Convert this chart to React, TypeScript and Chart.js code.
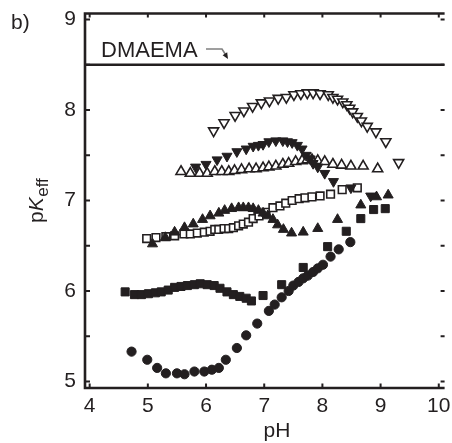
import { useEffect, useRef } from 'react';
import { Chart, registerables } from 'chart.js';

Chart.register(...registerables);

// ---------- data ----------
const X_MIN = 3.92;
const X_MAX = 10.1;
const Y_MIN = 4.928;
const Y_MAX = 9.072;

const xTickValues = [4, 5, 6, 7, 8, 9, 10];
const yTickValues = [5, 5.5, 6, 6.5, 7, 7.5, 8, 8.5, 9];

const dmaemaPKa = 8.5;
const dmaemaLabel = 'DMAEMA';

// filled circles
const circlePH = [4.72, 4.99, 5.16, 5.31, 5.5, 5.63, 5.8, 5.97, 6.1, 6.22, 6.34, 6.53, 6.69, 6.88, 7.08, 7.18, 7.3, 7.42, 7.5, 7.59, 7.67, 7.75, 7.84, 7.92, 8.01, 8.14, 8.28, 8.48];
const circlePK = [5.33, 5.24, 5.15, 5.09, 5.09, 5.08, 5.11, 5.11, 5.13, 5.15, 5.24, 5.37, 5.51, 5.64, 5.78, 5.85, 5.93, 6.0, 6.06, 6.1, 6.14, 6.17, 6.21, 6.25, 6.29, 6.38, 6.46, 6.54];

// filled squares
const filledSquarePH = [4.61, 4.77, 4.89, 5.01, 5.13, 5.23, 5.35, 5.46, 5.57, 5.68, 5.8, 5.9, 6.02, 6.14, 6.24, 6.36, 6.47, 6.58, 6.69, 6.78, 6.98, 7.3, 7.67, 8.09, 8.41, 8.66, 8.88, 9.08];
const filledSquarePK = [5.99, 5.96, 5.96, 5.97, 5.98, 5.99, 6.01, 6.04, 6.05, 6.06, 6.07, 6.08, 6.07, 6.06, 6.03, 5.99, 5.96, 5.94, 5.92, 5.89, 5.95, 6.07, 6.26, 6.49, 6.66, 6.8, 6.9, 6.91];

// filled up-triangles
const filledUpPH = [5.08, 5.3, 5.46, 5.63, 5.78, 5.94, 6.07, 6.22, 6.32, 6.44, 6.56, 6.64, 6.73, 6.81, 6.9, 6.98, 7.06, 7.15, 7.23, 7.33, 7.47, 7.67, 7.92, 8.26, 8.66, 8.93, 9.13];
const filledUpPK = [6.52, 6.59, 6.65, 6.7, 6.74, 6.79, 6.83, 6.86, 6.89, 6.91, 6.92, 6.92, 6.92, 6.91, 6.89, 6.86, 6.83, 6.79, 6.73, 6.68, 6.64, 6.65, 6.69, 6.79, 6.95, 7.04, 7.06];

// open squares
const openSquarePH = [4.98, 5.14, 5.31, 5.46, 5.62, 5.73, 5.85, 5.97, 6.07, 6.15, 6.22, 6.31, 6.39, 6.47, 6.56, 6.64, 6.73, 6.81, 6.91, 7.03, 7.15, 7.27, 7.37, 7.48, 7.6, 7.7, 7.82, 7.96, 8.14, 8.34, 8.6];
const openSquarePK = [6.58, 6.59, 6.6, 6.61, 6.63, 6.63, 6.64, 6.65, 6.66, 6.68, 6.68, 6.69, 6.69, 6.7, 6.72, 6.74, 6.76, 6.8, 6.83, 6.87, 6.92, 6.94, 6.97, 7.0, 7.02, 7.03, 7.04, 7.05, 7.07, 7.12, 7.14];

// open up-triangles
const openUpPH = [5.57, 5.73, 5.89, 6.02, 6.15, 6.27, 6.39, 6.49, 6.61, 6.74, 6.86, 6.98, 7.08, 7.2, 7.32, 7.42, 7.54, 7.65, 7.74, 7.82, 7.92, 8.04, 8.18, 8.33, 8.49, 8.7, 8.95];
const openUpPK = [7.32, 7.3, 7.3, 7.3, 7.32, 7.32, 7.32, 7.33, 7.34, 7.35, 7.35, 7.36, 7.37, 7.38, 7.4, 7.41, 7.43, 7.44, 7.45, 7.45, 7.44, 7.43, 7.4, 7.39, 7.38, 7.38, 7.35];

// filled down-triangles
const filledDownPH = [5.82, 6.0, 6.19, 6.36, 6.53, 6.69, 6.81, 6.9, 6.98, 7.08, 7.2, 7.32, 7.4, 7.48, 7.57, 7.65, 7.72, 7.79, 7.84, 7.92, 8.04, 8.19, 8.49, 8.83];
const filledDownPK = [7.37, 7.4, 7.45, 7.49, 7.54, 7.57, 7.6, 7.61, 7.62, 7.65, 7.66, 7.66, 7.65, 7.64, 7.61, 7.57, 7.5, 7.46, 7.41, 7.37, 7.3, 7.21, 7.14, 7.05];

// open down-triangles
const openDownPH = [6.13, 6.31, 6.5, 6.65, 6.8, 6.95, 7.09, 7.24, 7.38, 7.51, 7.63, 7.74, 7.84, 7.96, 8.1, 8.18, 8.26, 8.35, 8.42, 8.47, 8.52, 8.6, 8.67, 8.77, 8.92, 9.09, 9.31];
const openDownPK = [7.77, 7.86, 7.94, 7.99, 8.04, 8.08, 8.1, 8.13, 8.14, 8.17, 8.18, 8.19, 8.19, 8.18, 8.17, 8.14, 8.12, 8.09, 8.06, 8.02, 7.98, 7.93, 7.88, 7.82, 7.76, 7.65, 7.42];

// ---------- style ----------
const FONT = '"Liberation Sans", Arial, Helvetica, sans-serif';
const INK = '#231f20';

const pts = (xs: number[], ys: number[]) => xs.map((x, i) => ({ x, y: ys[i] }));

function marker(data: { x: number; y: number }[], style: string, radius: number, filled: boolean, rotation = 0, bw = 1) {
  return {
    type: 'scatter' as const,
    data,
    showLine: false,
    pointStyle: style,
    pointRadius: radius,
    pointRotation: rotation,
    pointBackgroundColor: filled ? INK : '#ffffff',
    pointBorderColor: INK,
    pointBorderWidth: bw,
    backgroundColor: filled ? INK : '#ffffff',
    borderColor: INK,
  };
}

const framePlugin = {
  id: 'frame',
  afterDatasetsDraw(chart: any) {
    const { ctx, chartArea } = chart;
    const { left, right, top, bottom } = chartArea;
    const xs = chart.scales.x;
    const ys = chart.scales.y;
    ctx.save();
    ctx.strokeStyle = INK;
    ctx.lineWidth = 2.6;
    ctx.beginPath();
    ctx.moveTo(left, top + 0.5);
    ctx.lineTo(right, top + 0.5);
    ctx.moveTo(left, top - 0.8);
    ctx.lineTo(left, bottom + 1.3);
    ctx.moveTo(left, bottom);
    ctx.lineTo(right, bottom);
    ctx.stroke();
    ctx.lineWidth = 2;
    ctx.beginPath();
    for (const v of xTickValues) {
      const px = xs.getPixelForValue(v);
      ctx.moveTo(px, bottom);
      ctx.lineTo(px, bottom - 4.5);
      ctx.moveTo(px, top);
      ctx.lineTo(px, top + 4.5);
    }
    for (const v of yTickValues) {
      const py = ys.getPixelForValue(v);
      ctx.moveTo(left, py);
      ctx.lineTo(left + 5, py);
      ctx.moveTo(right, py);
      ctx.lineTo(right - 4, py);
    }
    ctx.stroke();
    ctx.restore();
  },
};

const textPlugin = {
  id: 'texts',
  afterDraw(chart: any) {
    const { ctx } = chart;
    ctx.save();
    ctx.fillStyle = INK;
    ctx.textBaseline = 'alphabetic';
    // panel label
    ctx.textAlign = 'left';
    ctx.font = `21px ${FONT}`;
    ctx.fillText('b)', 11, 29);
    // x title
    ctx.textAlign = 'center';
    ctx.fillText('pH', 277, 437);
    // DMAEMA label
    ctx.textAlign = 'left';
    ctx.font = `22px ${FONT}`;
    ctx.fillText(dmaemaLabel, 101, 57);
    // arrow
    ctx.strokeStyle = '#808080';
    ctx.lineWidth = 1.6;
    ctx.beginPath();
    ctx.moveTo(206, 49);
    ctx.lineTo(222, 49);
    ctx.lineTo(225.5, 54.5);
    ctx.stroke();
    ctx.fillStyle = INK;
    ctx.beginPath();
    ctx.moveTo(228, 59);
    ctx.lineTo(222.6, 55.2);
    ctx.lineTo(227.2, 52.3);
    ctx.closePath();
    ctx.fill();
    // y title pK_eff
    ctx.fillStyle = INK;
    ctx.translate(43, 223);
    ctx.rotate(-Math.PI / 2);
    ctx.textAlign = 'left';
    let w = 0;
    ctx.font = `21px ${FONT}`;
    ctx.fillText('p', w, 0);
    w += ctx.measureText('p').width;
    ctx.font = `italic 21px ${FONT}`;
    ctx.fillText('K', w, 0);
    w += ctx.measureText('K').width + 0.5;
    ctx.font = `17px ${FONT}`;
    ctx.fillText('eff', w, 5);
    ctx.restore();
  },
};

export default function App() {
  const ref = useRef<HTMLCanvasElement | null>(null);

  useEffect(() => {
    if (!ref.current) return;
    const chart = new Chart(ref.current, {
      type: 'scatter',
      data: {
        datasets: [
          marker(pts(filledDownPH, filledDownPK), 'triangle', 5.8, true, 180),
          marker(pts(filledUpPH, filledUpPK), 'triangle', 5.8, true, 0),
          marker(pts(openDownPH, openDownPK), 'triangle', 5.8, false, 180, 1.6),
          marker(pts(openUpPH, openUpPK), 'triangle', 5.8, false, 0, 1.6),
          marker(pts(openSquarePH, openSquarePK), 'rect', 5.4, false, 0, 1.6),
          marker(pts(filledSquarePH, filledSquarePK), 'rect', 5.7, true, 0, 1),
          marker(pts(circlePH, circlePK), 'circle', 4.6, true, 0, 1),
          {
            type: 'line' as const,
            data: [
              { x: X_MIN, y: dmaemaPKa },
              { x: X_MAX, y: dmaemaPKa },
            ],
            borderColor: INK,
            borderWidth: 2.6,
            pointRadius: 0,
            showLine: true,
          } as any,
        ],
      },
      options: {
        animation: false,
        responsive: false,
        devicePixelRatio: 1,
        events: [],
        layout: { padding: { top: 13, left: 0, right: 0, bottom: 0 } },
        plugins: { legend: { display: false }, tooltip: { enabled: false } },
        scales: {
          x: {
            type: 'linear',
            min: X_MIN,
            max: X_MAX,
            afterBuildTicks: (s: any) => {
              s.ticks = xTickValues.map((v) => ({ value: v }));
            },
            afterFit: (s: any) => {
              s.height = 55;
              s.paddingLeft = 0;
              s.paddingRight = 0;
            },
            grid: { display: false, drawTicks: false },
            border: { display: false },
            ticks: {
              font: { family: FONT, size: 21 },
              color: INK,
              padding: 6,
              maxRotation: 0,
              autoSkip: false,
              callback: (v: any) => String(v),
            },
          },
          y: {
            type: 'linear',
            min: Y_MIN,
            max: Y_MAX,
            afterBuildTicks: (s: any) => {
              s.ticks = yTickValues.map((v) => ({ value: v }));
            },
            afterFit: (s: any) => {
              s.width = 85;
              s.paddingTop = 0;
              s.paddingBottom = 0;
            },
            grid: { display: false, drawTicks: false },
            border: { display: false },
            ticks: {
              font: { family: FONT, size: 21 },
              color: INK,
              padding: 9,
              autoSkip: false,
              callback: (v: any) => (Number.isInteger(v) ? String(v) : ''),
            },
          },
        },
      } as any,
      plugins: [framePlugin, textPlugin],
    });
    return () => chart.destroy();
  }, []);

  return (
    <div style={{ position: 'absolute', left: 0, top: 0, width: 452, height: 443, background: '#ffffff' }}>
      <canvas ref={ref} width={452} height={443} style={{ display: 'block', width: 452, height: 443 }} />
    </div>
  );
}
